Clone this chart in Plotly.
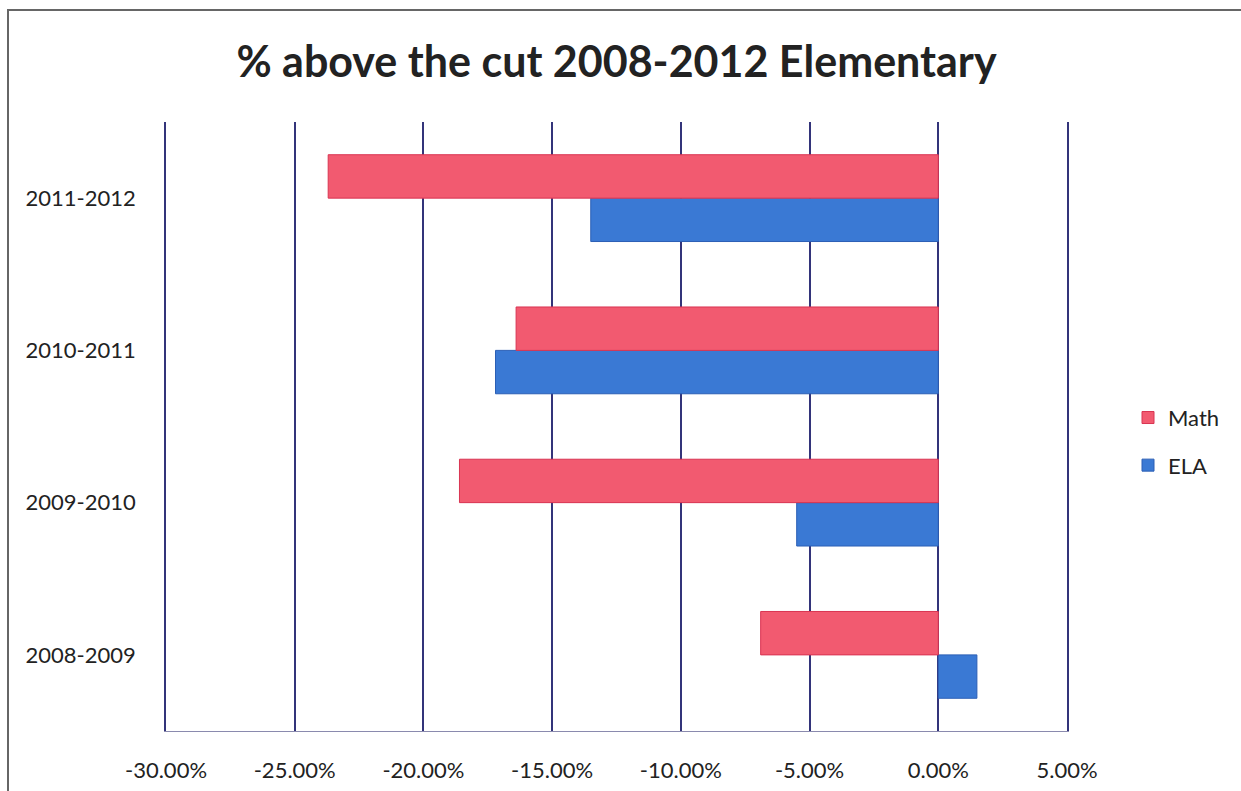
import plotly.graph_objects as go

# School years, listed bottom to top on the category axis
years = ["2008-2009", "2009-2010", "2010-2011", "2011-2012"]

# Change in share of students above the cut score (fractions)
math_vals = [-0.069, -0.186, -0.164, -0.237]
ela_vals = [0.015, -0.055, -0.172, -0.135]

x_ticks = [-0.30, -0.25, -0.20, -0.15, -0.10, -0.05, 0.0, 0.05]
x_tick_text = ["-30.00%", "-25.00%", "-20.00%", "-15.00%",
               "-10.00%", "-5.00%", "0.00%", "5.00%"]

W, H = 1241, 791
L, R, T, B = 166, 174, 122, 60

grid_col = "#33347A"
font_fam = "Lato, 'Open Sans', sans-serif"

fig = go.Figure()
# ELA first so that Math sits above it within each group
fig.add_trace(go.Bar(
    y=years, x=ela_vals, orientation="h", name="ELA",
    legendgroup="ela", legendrank=2,
    marker=dict(color="#3A79D4", line=dict(color="#2B5FB5", width=1)),
))
fig.add_trace(go.Bar(
    y=years, x=math_vals, orientation="h", name="Math",
    legendgroup="math", legendrank=1,
    marker=dict(color="#F25A70", line=dict(color="#D93452", width=1)),
))

fig.update_layout(
    width=W, height=H,
    margin=dict(l=L, r=R, t=T, b=B, autoexpand=False),
    paper_bgcolor="white", plot_bgcolor="white",
    barmode="group", bargap=0.43, bargroupgap=0,
    title=dict(
        text="<b>% above the cut 2008-2012 Elementary</b>",
        x=0.5, xanchor="center", xref="paper",
        y=1 - 62 / H, yanchor="middle",
        font=dict(family=font_fam, size=43, color="#222222"),
    ),
    legend=dict(
        traceorder="grouped",
        x=(1128 - L) / (W - L - R), xanchor="left",
        y=0.475, yanchor="middle",
        font=dict(family=font_fam, size=22, color="#222222"),
        itemwidth=30, tracegroupgap=16,
        bgcolor="rgba(0,0,0,0)",
    ),
    xaxis=dict(
        range=[-0.30, 0.05], tickvals=x_ticks, ticktext=x_tick_text,
        showgrid=True, gridcolor=grid_col, gridwidth=1.5,
        zeroline=True, zerolinecolor=grid_col, zerolinewidth=1.5,
        showline=True, linecolor="#8A8AAE", linewidth=1,
        ticks="", ticklabelstandoff=20, automargin=False,
        tickfont=dict(family=font_fam, size=22, color="#222222"),
        fixedrange=True,
    ),
    yaxis=dict(
        categoryorder="array", categoryarray=years,
        showgrid=False, zeroline=False,
        showline=True, mirror=True, linecolor=grid_col, linewidth=1.5,
        ticks="", ticklabelstandoff=24, automargin=False,
        tickfont=dict(family=font_fam, size=22, color="#222222"),
        fixedrange=True,
    ),
    shapes=[dict(
        type="rect", xref="paper", yref="paper",
        x0=(8 - L) / (W - L - R), x1=(W + 5 - L) / (W - L - R),
        y0=-0.3, y1=(H - 10 - B) / (H - T - B),
        line=dict(color="#666666", width=2), fillcolor="rgba(0,0,0,0)",
        layer="below",
    )],
)

fig.write_html("out.html")
